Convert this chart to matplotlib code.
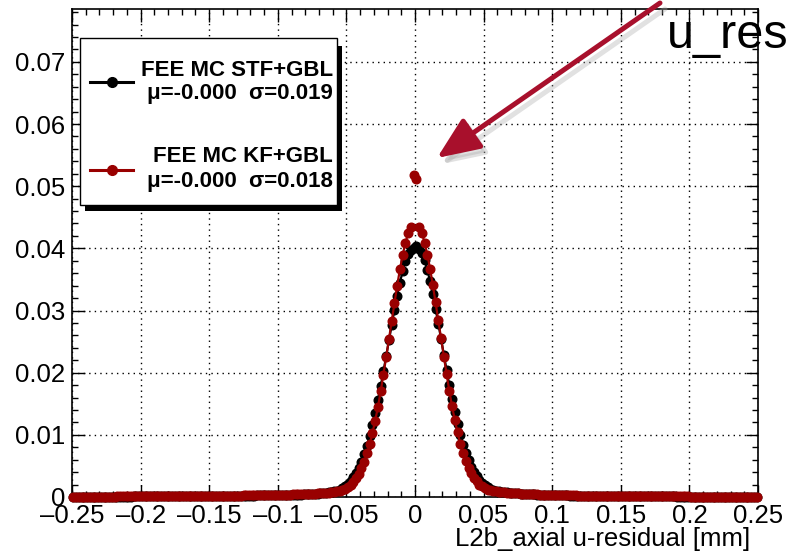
"""
plot.py - u-residual of L2b_axial, STF+GBL vs KF+GBL (FEE MC)

Two normalised histograms (250 bins on [-0.25, 0.25] mm), drawn ROOT-style:
markers + line, dotted grid, ticks inside on all four sides,
a boxed legend with a drop shadow and an arrow pointing at the spike.
"""
import matplotlib
matplotlib.use("Agg")
import matplotlib.pyplot as plt
import numpy as np
from matplotlib.patches import Rectangle, FancyArrowPatch
from matplotlib.ticker import MultipleLocator, FixedLocator, FixedFormatter

# ---- data -------------------------------------------------------------------
n_bins = 250
x_lo, x_hi = -0.25, 0.25

# FEE MC STF+GBL, bins -0.249 ... -0.001
stf_neg = [
    0.00005, 0.00005, 0.00005, 0.00005, 0.00006, 0.00005, 0.00006, 0.00006, 0.00006, 0.00006,
    0.00006, 0.00007, 0.00006, 0.00007, 0.00007, 0.00007, 0.00007, 0.00008, 0.00008, 0.00008,
    0.00008, 0.00008, 0.00009, 0.00009, 0.00009, 0.00009, 0.0001, 0.0001, 0.0001, 0.0001,
    0.0001, 0.0001, 0.0001, 0.00011, 0.00011, 0.00011, 0.00012, 0.00012, 0.00012, 0.00012,
    0.00013, 0.00013, 0.00013, 0.00014, 0.00014, 0.00014, 0.00015, 0.00015, 0.00015, 0.00016,
    0.00016, 0.00017, 0.00017, 0.00017, 0.00018, 0.00018, 0.00019, 0.00019, 0.0002, 0.0002,
    0.00021, 0.00021, 0.00022, 0.00022, 0.00023, 0.00023, 0.00024, 0.00025, 0.00025, 0.00026,
    0.00027, 0.00028, 0.00028, 0.00029, 0.0003, 0.00031, 0.00032, 0.00033, 0.00034, 0.00035,
    0.00036, 0.00037, 0.00038, 0.0004, 0.00041, 0.00043, 0.00044, 0.00046, 0.00048, 0.0005,
    0.0006, 0.00065, 0.0007, 0.00075, 0.0008, 0.0009, 0.001, 0.0012, 0.0014, 0.0017,
    0.0021, 0.0026, 0.0032, 0.0039, 0.0047, 0.0057, 0.0069, 0.0082, 0.0098, 0.0116,
    0.0135, 0.0156, 0.0178, 0.0202, 0.0227, 0.0252, 0.0277, 0.0301, 0.0324, 0.0345,
    0.0363, 0.0379, 0.0391, 0.0398, 0.0401,
]
# FEE MC STF+GBL, bins 0.001 ... 0.249
stf_pos = [
    0.0403, 0.0399, 0.0392, 0.0381, 0.0365,
    0.0347, 0.0326, 0.0303, 0.0279, 0.0254, 0.0229, 0.0204, 0.0180, 0.0158, 0.0137,
    0.0118, 0.0100, 0.0084, 0.0071, 0.0059, 0.0049, 0.0041, 0.0034, 0.0028, 0.0023,
    0.0019, 0.0016, 0.0013, 0.0012, 0.0010, 0.0009, 0.00085, 0.0008, 0.00075, 0.0007,
    0.00066, 0.00062, 0.00058, 0.00055, 0.00052, 0.00049, 0.00046, 0.00044, 0.00042, 0.0004,
    0.00038, 0.00036, 0.00035, 0.00033, 0.00032, 0.0003, 0.00029, 0.00028, 0.00027, 0.00026,
    0.00025, 0.00024, 0.00023, 0.00023, 0.00022, 0.00021, 0.00021, 0.0002, 0.0002, 0.00019,
    0.00019, 0.00018, 0.00018, 0.00017, 0.00017, 0.00016, 0.00016, 0.00015, 0.00015, 0.00015,
    0.00014, 0.00014, 0.00014, 0.00013, 0.00013, 0.00013, 0.00012, 0.00012, 0.00012, 0.00011,
    0.00011, 0.00011, 0.0001, 0.0001, 0.0001, 0.0001, 0.00009, 0.00009, 0.00009, 0.00009,
    0.00008, 0.00008, 0.00008, 0.00008, 0.00007, 0.00007, 0.00007, 0.00007, 0.00007, 0.00006,
    0.00006, 0.00006, 0.00006, 0.00006, 0.00005, 0.00005, 0.00005, 0.00005, 0.00005, 0.00005,
    0.00004, 0.00005, 0.00004, 0.00004, 0.00004, 0.00005, 0.00004, 0.00004, 0.00004, 0.00003,
]
# FEE MC KF+GBL, bins -0.249 ... -0.001
kf_neg = [
    0.00006, 0.00006, 0.00006, 0.00006, 0.00007, 0.00006, 0.00007, 0.00007, 0.00007, 0.00007,
    0.00007, 0.00008, 0.00008, 0.00008, 0.00008, 0.00008, 0.00009, 0.00009, 0.00009, 0.00009,
    0.0001, 0.0001, 0.0001, 0.0001, 0.0001, 0.00011, 0.00011, 0.00011, 0.00011, 0.00012,
    0.00012, 0.00012, 0.00012, 0.00013, 0.00013, 0.00013, 0.00014, 0.00014, 0.00014, 0.00015,
    0.00015, 0.00015, 0.00016, 0.00016, 0.00016, 0.00017, 0.00017, 0.00018, 0.00018, 0.00018,
    0.00019, 0.00019, 0.0002, 0.0002, 0.00021, 0.00021, 0.00022, 0.00022, 0.00023, 0.00023,
    0.00024, 0.00024, 0.00025, 0.00026, 0.00026, 0.00027, 0.00028, 0.00028, 0.00029, 0.0003,
    0.00031, 0.00032, 0.00033, 0.00034, 0.00035, 0.00036, 0.00037, 0.00038, 0.00039, 0.0004,
    0.00041, 0.00043, 0.00044, 0.00046, 0.00047, 0.00049, 0.00051, 0.00053, 0.00055, 0.00057,
    0.0006, 0.00063, 0.00067, 0.00071, 0.00076, 0.00082, 0.0009, 0.001, 0.0011, 0.0013,
    0.0016, 0.0019, 0.0024, 0.0030, 0.0037, 0.0046, 0.0057, 0.0070, 0.0085, 0.0103,
    0.0123, 0.0145, 0.0170, 0.0197, 0.0225, 0.0254, 0.0283, 0.0312, 0.0340, 0.0366,
    0.0389, 0.0409, 0.0424, 0.0435, 0.0518,
]
# FEE MC KF+GBL, bins 0.001 ... 0.249
kf_pos = [
    0.0512, 0.0434, 0.0425, 0.0409, 0.0390,
    0.0367, 0.0341, 0.0313, 0.0284, 0.0255, 0.0226, 0.0198, 0.0171, 0.0146, 0.0124,
    0.0104, 0.0086, 0.0071, 0.0058, 0.0047, 0.0038, 0.0031, 0.0025, 0.0020, 0.0017,
    0.0014, 0.0012, 0.0011, 0.001, 0.0009, 0.00085, 0.0008, 0.00076, 0.00072, 0.00068,
    0.00064, 0.00061, 0.00058, 0.00055, 0.00052, 0.0005, 0.00048, 0.00046, 0.00044, 0.00042,
    0.0004, 0.00038, 0.00037, 0.00035, 0.00034, 0.00032, 0.00031, 0.0003, 0.00029, 0.00028,
    0.00027, 0.00026, 0.00025, 0.00025, 0.00024, 0.00023, 0.00022, 0.00022, 0.00021, 0.00021,
    0.0002, 0.0002, 0.00019, 0.00019, 0.00018, 0.00018, 0.00017, 0.00017, 0.00017, 0.00016,
    0.00016, 0.00015, 0.00015, 0.00015, 0.00014, 0.00014, 0.00014, 0.00013, 0.00013, 0.00013,
    0.00012, 0.00012, 0.00012, 0.00011, 0.00011, 0.00011, 0.00011, 0.0001, 0.0001, 0.0001,
    0.0001, 0.00009, 0.00009, 0.00009, 0.00009, 0.00008, 0.00008, 0.00008, 0.00008, 0.00008,
    0.00007, 0.00007, 0.00007, 0.00007, 0.00007, 0.00006, 0.00006, 0.00006, 0.00006, 0.00006,
    0.00006, 0.00005, 0.00005, 0.00005, 0.00005, 0.00005, 0.00005, 0.00005, 0.00004, 0.00004,
]
# the two central KF bins that stick out above the peak (not joined by the line)
kf_spike_bins = [124, 125]

x_ticks = [-0.25, -0.2, -0.15, -0.1, -0.05, 0, 0.05, 0.1, 0.15, 0.2, 0.25]
x_tick_labels = ["\u20130.25", "\u20130.2", "\u20130.15", "\u20130.1", "\u20130.05", "0",
                 "0.05", "0.1", "0.15", "0.2", "0.25"]
y_ticks = [0, 0.01, 0.02, 0.03, 0.04, 0.05, 0.06, 0.07]
y_tick_labels = ["0", "0.01", "0.02", "0.03", "0.04", "0.05", "0.06", "0.07"]

series_names = ["FEE MC STF+GBL", "FEE MC KF+GBL"]
series_stats = ["\u03bc=-0.000  \u03c3=0.019", "\u03bc=-0.000  \u03c3=0.018"]
x_title = "L2b_axial u-residual [mm]"
plot_title = "u_res"

BLACK = "#000000"
RED = "#990000"
ARROW_RED = "#a8102c"

W, H = 787, 552


def fx(px):
    return px / W


def fy(py):
    return 1 - py / H


def main():
    plt.rcParams["font.family"] = ["Liberation Sans", "DejaVu Sans"]

    width = (x_hi - x_lo) / n_bins
    centers = x_lo + (np.arange(n_bins) + 0.5) * width
    stf = np.array(stf_neg + stf_pos)
    kf = np.array(kf_neg + kf_pos)

    fig = plt.figure(figsize=(W / 100, H / 100), dpi=100)
    ax = fig.add_axes([fx(72), fy(497), fx(758) - fx(72), fy(9) - fy(497)])

    ms = 6.2
    ax.plot(centers, stf, "-", color=BLACK, lw=1.6, zorder=3, clip_on=False)
    ax.plot(centers, stf, "o", color=BLACK, ms=ms, zorder=3, clip_on=False)
    keep = np.setdiff1d(np.arange(n_bins), kf_spike_bins)
    ax.plot(centers[keep], kf[keep], "-", color=RED, lw=1.6, zorder=4, clip_on=False)
    ax.plot(centers, kf, "o", color=RED, ms=ms, zorder=4, clip_on=False)

    ax.set_xlim(x_lo, x_hi)
    ax.set_ylim(0, 0.0785)

    ax.xaxis.set_major_locator(FixedLocator(x_ticks))
    ax.xaxis.set_major_formatter(FixedFormatter(x_tick_labels))
    ax.xaxis.set_minor_locator(MultipleLocator(0.01))
    ax.yaxis.set_major_locator(FixedLocator(y_ticks))
    ax.yaxis.set_major_formatter(FixedFormatter(y_tick_labels))
    ax.yaxis.set_minor_locator(MultipleLocator(0.002))

    ax.tick_params(which="both", direction="in", top=True, right=True,
                   width=1.0, color="black")
    ax.tick_params(which="major", length=9)
    ax.tick_params(which="minor", length=4.5)
    ax.tick_params(axis="x", which="major", labelsize=18.5, pad=5)
    ax.tick_params(axis="y", which="major", labelsize=18.5, pad=5)

    ax.grid(True, which="major", color="black", lw=1.0, linestyle=(0, (1, 3)))
    ax.set_axisbelow(True)
    for s in ax.spines.values():
        s.set_linewidth(1.2)

    # x title, right aligned near the axis end
    fig.text(fx(750), fy(546), x_title, ha="right", va="baseline", fontsize=18.5)
    # plot title, runs off the right edge
    fig.text(fx(667), fy(48), plot_title, ha="left", va="baseline", fontsize=35)

    # arrow to the spike, with a soft shadow
    for dx, dy, col, a in [(5, 6, "#aaaaaa", 0.35), (0, 0, ARROW_RED, 1.0)]:
        arr = FancyArrowPatch((fx(660 + dx), fy(3 + dy)), (fx(437 + dx), fy(158 + dy)),
                              transform=fig.transFigure,
                              arrowstyle="-|>,head_length=1.3,head_width=0.55",
                              mutation_scale=20, color=col, alpha=a, lw=3.6,
                              shrinkA=0, shrinkB=0, zorder=10)
        fig.add_artist(arr)

    # legend box with black drop shadow
    fig.add_artist(Rectangle((fx(85), fy(211)), fx(342) - fx(85), fy(46) - fy(211),
                             transform=fig.transFigure, facecolor="black",
                             edgecolor="none", zorder=11))
    fig.add_artist(Rectangle((fx(80), fy(205)), fx(337) - fx(80), fy(38) - fy(205),
                             transform=fig.transFigure, facecolor="white",
                             edgecolor="black", lw=1.0, zorder=12))
    rows = [(82, 71, 94, BLACK), (170, 157, 182, RED)]
    for (ly, ny, sy, col), name, stat in zip(rows, series_names, series_stats):
        fig.add_artist(plt.Line2D([fx(90), fx(133)], [fy(ly), fy(ly)], color=col, lw=2.2,
                                  transform=fig.transFigure, zorder=13))
        fig.add_artist(plt.Line2D([fx(112)], [fy(ly)], marker="o", ms=7, color=col,
                                  transform=fig.transFigure, zorder=13))
        fig.text(fx(333), fy(ny), name, ha="right", va="center", fontsize=16,
                 fontweight="bold", zorder=13)
        fig.text(fx(333), fy(sy), stat, ha="right", va="center", fontsize=16,
                 fontweight="bold", zorder=13)

    fig.savefig("out.png", dpi=100)
    plt.close(fig)


if __name__ == "__main__":
    main()
